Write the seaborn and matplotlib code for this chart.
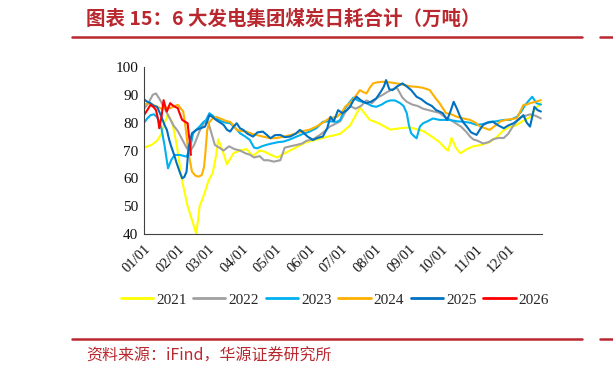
import numpy as np
import pandas as pd
import matplotlib
matplotlib.use("Agg")
import matplotlib.pyplot as plt
from matplotlib.lines import Line2D
import seaborn as sns

# ---------------- data (day of year, value in 万吨) ----------------
d21 = [1, 8, 13, 17, 20, 23, 27, 31, 36, 41, 45, 49, 52, 56, 60, 64, 67, 69, 73, 77, 83, 89, 95, 101, 107, 112, 117, 123,
       130, 140, 150, 160, 170, 181, 190, 199, 204, 208, 215, 227, 236, 245, 257, 265, 272, 278, 280, 283, 287, 291, 297,
       303, 310, 318, 325, 330, 336, 342, 348, 355, 360, 365]
v21 = [71, 72, 73.5, 76, 80, 83, 80, 72, 59, 50, 45, 40, 50, 54, 59, 62, 68, 74, 70, 65, 69, 70, 70.5, 68, 70, 69.5, 68.5, 67.5,
       69, 71, 73, 74, 75, 76, 79, 85.5, 83, 81, 80, 77.5, 78, 78.3, 77, 75, 73, 70.5, 70, 74.5, 71, 69, 70.5,
       71.5, 72, 73, 75, 77, 78.5, 79, 80.5, 82, 85, 87]

d22 = [1, 5, 9, 12, 16, 20, 24, 28, 32, 36, 40, 43, 47, 52, 56, 60, 63, 66, 70, 74, 79, 84, 89, 94, 98, 102, 107, 111, 115, 120,
       126, 130, 135, 141, 146, 150, 156, 162, 167, 171, 176, 181, 186, 190, 195, 200, 205, 210, 215, 220, 224, 229, 233, 238,
       242, 247, 252, 257, 262, 267, 272, 277, 282, 288, 292, 297, 300, 303, 307, 312, 317, 321, 326, 331, 335, 339, 343, 347,
       351, 355, 360, 365]
v22 = [85, 87, 90, 90.5, 88, 85, 82, 79, 77, 74, 71, 69.5, 72, 77, 80, 80, 76, 72, 71, 70, 71.5, 70.5, 70, 69, 68.5, 67.5, 68,
       66.5, 66.5, 66, 66.5, 71, 71.5, 72, 72.5, 73.5, 74, 75.5, 77, 78.5, 79.5, 80.5, 84, 86, 85, 86, 88, 87, 89, 90, 91, 92,
       92.5, 89, 87.5, 86.5, 86, 85, 84.5, 84, 83.5, 82, 81, 79.5, 78.5, 76.5, 75, 74, 73.5, 72.5, 73, 74, 74.5, 74.5, 76, 78.5,
       80.5, 82, 82.5, 83, 82.5, 81.5]

d23 = [1, 4, 7, 10, 13, 17, 20, 23, 26, 29, 34, 40, 43, 46, 49, 52, 55, 58, 61, 64, 67, 72, 76, 80, 85, 89, 94, 98, 102, 105,
       109, 113, 118, 124, 129, 135, 141, 147, 153, 159, 165, 171, 178, 181, 185, 189, 193, 197, 201, 205, 210, 214, 219, 223,
       227, 231, 236, 239, 242, 244, 246, 249, 251, 254, 257, 261, 266, 272, 281, 288, 294, 300, 306, 312, 318, 324, 331, 337,
       343, 347, 350, 353, 357, 361, 365]
v23 = [80, 81.5, 82.7, 83, 82, 78, 71.4, 63.6, 66.6, 68.4, 68.4, 67.8, 70.2, 76.2, 77.5, 78.6, 80, 81, 83.4, 82.5, 81.6, 80.5,
       80, 79.8, 78, 76.2, 75, 73.8, 71, 70.8, 71.5, 72, 72.5, 73, 73.2, 74, 75, 76, 76.8, 78, 80.3, 80.5, 80.3, 81, 85, 87, 89,
       88, 87.5, 87, 86, 85.7, 86.5, 87.5, 88, 88, 87, 86, 83.4, 79, 76.2, 75, 74.4, 78.6, 79.8, 80.5, 81.5, 81, 81, 80.5, 80.3,
       80, 79.2, 79.5, 80.3, 80.5, 81, 81, 82.1, 84, 86, 87.5, 89.3, 87, 86.5]

d24 = [1, 5, 9, 13, 17, 21, 25, 29, 32, 35, 37, 39, 41, 43, 45, 48, 51, 54, 56, 57, 59, 61, 64, 67, 71, 74, 77, 80, 83, 86,
       90, 95, 100, 104, 110, 117, 123, 129, 135, 141, 147, 153, 159, 165, 171, 178, 182, 186, 190, 195, 199, 202, 205, 208,
       211, 215, 220, 226, 233, 240, 246, 251, 257, 263, 268, 272, 275, 278, 283, 288, 294, 300, 305, 309, 314, 318, 324, 328,
       333, 338, 343, 346, 349, 352, 355, 360, 365]
v24 = [86.5, 87, 86.5, 85.7, 85, 85.5, 85.2, 86, 86.4, 85, 84, 78.6, 72, 66.6, 62.4, 61, 60.6, 61.2, 64, 67.8, 77.4, 80.3, 81.5,
       82.1, 81.5, 81, 80.5, 80.3, 79, 77.4, 77, 76.8, 76, 75.6, 75, 74.4, 74.5, 75, 75.5, 76.2, 77, 77.5, 78.6, 80, 81.6, 82.1,
       83.5, 86, 87, 89.5, 91.7, 91, 90.5, 92.5, 94.1, 94.5, 94.7, 94.5, 94.1, 93.5, 93, 92.9, 92.5, 91.7, 89, 87, 85.2, 83.4, 83,
       82.1, 81.5, 81, 80, 78.6, 78, 77.4, 79.2, 80.5, 81, 81.3, 81.6, 84, 86.4, 86.5, 87, 87.5, 88.1]

d25 = [1, 4, 7, 10, 13, 17, 20, 22, 24, 26, 29, 31, 34, 36, 38, 40, 42, 45, 49, 53, 57, 59, 61, 64, 67, 71, 74, 77, 80, 83,
       86, 89, 92, 96, 101, 105, 110, 114, 117, 121, 126, 130, 135, 140, 144, 147, 151, 156, 160, 165, 169, 172, 175, 179, 183,
       187, 190, 193, 196, 200, 205, 209, 214, 218, 221, 223, 226, 229, 233, 238, 242, 246, 251, 255, 260, 265, 269, 272, 275,
       279, 282, 285, 288, 291, 294, 297, 301, 306, 309, 312, 316, 321, 326, 331, 335, 340, 344, 349, 352, 355, 357, 359, 362,
       365]
v25 = [88.4, 87.5, 87, 86, 85.7, 82.1, 79, 77.4, 74, 71.4, 68, 65.4, 62, 60, 60.5, 62.4, 71.4, 76.2, 77.4, 78, 78.6, 80.5, 82.7,
       82, 81, 80, 79.2, 77.5, 76.8, 78.5, 79.8, 78, 77.4, 76, 75, 76.5, 76.8, 75.5, 74.4, 75.5, 75.6, 74.8, 75, 76, 77.4, 76.5,
       75, 73.8, 74.5, 75, 78, 82.1, 80.5, 84.5, 83.4, 84.5, 85.7, 88, 89.3, 88, 87, 87.5, 88.7, 91, 93, 95.3, 92, 91.7, 93,
       94.1, 93, 91.7, 89.3, 88.5, 87, 86, 84.5, 84, 83.4, 81, 84, 87.5, 85, 82.1, 80, 78.6, 76.5, 75.6, 77.5, 79.2, 80, 80.3,
       79, 78, 79, 79.8, 81, 82.7, 80, 78.6, 82, 85.7, 84.5, 84]

d26 = [1, 4, 7, 10, 12, 14, 15, 17, 19, 21, 22, 25, 28, 32, 34, 36, 38, 41, 42, 43, 44]
v26 = [82.7, 84.5, 86.4, 85.5, 84.5, 81, 78, 82, 88.1, 85, 84, 87, 86, 85.2, 83, 81, 80.5, 79.8, 76, 73.2, 68.4]

years = ["2021", "2022", "2023", "2024", "2025", "2026"]
colors = ["#FFFF00", "#A0A0A0", "#00B0F0", "#FFB000", "#0070C0", "#FF0000"]
tick_days = [1, 32, 60, 91, 121, 152, 182, 213, 244, 274, 305, 335, 366]
tick_labels = ["01/01", "02/01", "03/01", "04/01", "05/01", "06/01", "07/01",
               "08/01", "09/01", "10/01", "11/01", "12/01", ""]
title = "图表 15：6 大发电集团煤炭日耗合计（万吨）"
source = "资料来源：iFind，华源证券研究所"

frames = []
for y, d, v in zip(years, [d21, d22, d23, d24, d25, d26], [v21, v22, v23, v24, v25, v26]):
    frames.append(pd.DataFrame({"day": d, "value": v, "year": y}))
df = pd.concat(frames, ignore_index=True)

# ---------------- figure ----------------
sns.set_theme(style="white")
plt.rcParams["font.family"] = ["Liberation Serif", "Noto Sans CJK SC"]

W, H = 613, 377
fig = plt.figure(figsize=(W / 100, H / 100), dpi=100)
ax = fig.add_axes([144 / W, 1 - 234 / H, (542 - 144) / W, (234 - 67) / H])

sns.lineplot(data=df, x="day", y="value", hue="year", hue_order=years,
             palette=dict(zip(years, colors)), estimator=None, sort=False,
             linewidth=1.5, legend=False, ax=ax)

ax.set_xlim(1, 366)
ax.set_ylim(40, 100)
ax.set_yticks(range(40, 101, 10))
ax.set_xticks(tick_days)
ax.set_xticklabels(tick_labels, rotation=45, ha="right", rotation_mode="anchor")
ax.set_xlabel("")
ax.set_ylabel("")
for s in ["top", "right"]:
    ax.spines[s].set_visible(False)
for s in ["left", "bottom"]:
    ax.spines[s].set_color("#404040")
    ax.spines[s].set_linewidth(0.8)
ax.tick_params(axis="both", direction="in", length=4, width=0.8, color="#404040",
               labelsize=10.5, labelcolor="#111111")
ax.tick_params(axis="x", pad=6)
ax.tick_params(axis="y", pad=4)
ax.tick_params(axis="y", labelsize=11)

handles = [Line2D([0], [0], color=c, lw=2) for c in colors]
fig.legend(handles, years, loc="center", bbox_to_anchor=(335 / W, 1 - 300 / H),
           ncol=6, frameon=False, fontsize=11, handlelength=2.1,
           handletextpad=0.2, columnspacing=0.45)

red = "#B8282E"
fig.text(86 / W, 1 - 19 / H, title, fontsize=14, fontweight="bold", color=red,
         family=["Noto Sans CJK SC", "DejaVu Sans"], va="center", ha="left")
fig.add_artist(Line2D([72 / W, 582 / W], [1 - 37 / H, 1 - 37 / H], color=red, lw=1.8))
fig.add_artist(Line2D([600 / W, 1.0], [1 - 37 / H, 1 - 37 / H], color=red, lw=1.8))
fig.add_artist(Line2D([72 / W, 582 / W], [1 - 339 / H, 1 - 339 / H], color=red, lw=1.8))
fig.add_artist(Line2D([600 / W, 1.0], [1 - 339 / H, 1 - 339 / H], color=red, lw=1.8))
fig.text(86 / W, 1 - 356 / H, source, fontsize=11.5, color=red,
         family=["Noto Sans CJK SC", "DejaVu Sans"], va="center", ha="left")

fig.savefig("out.png", dpi=100)
